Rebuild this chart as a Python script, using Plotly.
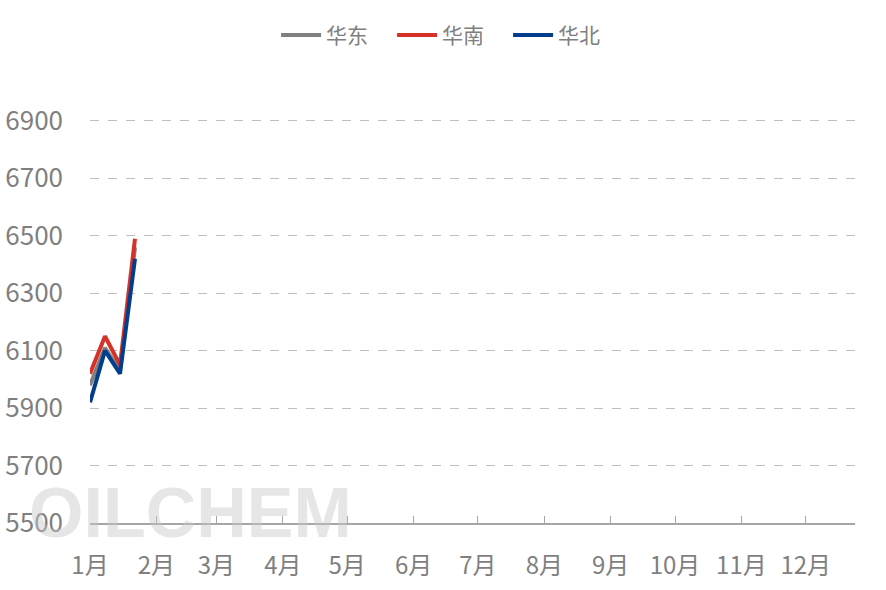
import plotly.graph_objects as go

dates = ["2025-01-01", "2025-01-08", "2025-01-15", "2025-01-22"]
huadong = [5980, 6110, 6030, 6460]
huanan = [6020, 6150, 6050, 6490]
huabei = [5920, 6100, 6020, 6420]

month_ticks = [f"2025-{m:02d}-01" for m in range(1, 13)]
month_labels = [f"{m}月" for m in range(1, 13)]
y_ticks = [5500, 5700, 5900, 6100, 6300, 6500, 6700, 6900]

series = [
    ("华东", huadong, "#808080"),
    ("华南", huanan, "#d7322a"),
    ("华北", huabei, "#033e8c"),
]

fig = go.Figure()
for name, vals, color in series:
    fig.add_trace(go.Scatter(
        x=dates, y=vals, name=name, mode="lines",
        line=dict(color=color, width=4),
    ))

font_family = "Noto Sans CJK SC, Noto Sans, sans-serif"
fig.update_layout(
    width=886, height=590,
    margin=dict(l=90, r=31, t=118, b=67, autoexpand=False),
    paper_bgcolor="white", plot_bgcolor="white",
    font=dict(family=font_family, size=21, color="#7f7f7f"),
    showlegend=True,
    legend=dict(
        orientation="h", x=0.508, xanchor="center", xref="container",
        y=0.94, yanchor="middle", yref="container",
        font=dict(size=21, color="#7f7f7f"),
        entrywidth=61, itemwidth=40,
    ),
    xaxis=dict(
        type="date",
        range=["2025-01-01", "2025-12-24"],
        tickmode="array", tickvals=month_ticks, ticktext=month_labels,
        showgrid=False, zeroline=False,
        showline=True, linecolor="#a6a6a6", linewidth=1.5,
        ticks="inside", ticklen=7, tickcolor="#a6a6a6", tickwidth=1,
        tickfont=dict(size=24, color="#7f7f7f"),
        ticklabelstandoff=20, automargin=False,
    ),
    yaxis=dict(
        range=[5500, 6910],
        tickmode="array", tickvals=y_ticks,
        showgrid=True, gridcolor="#bfbfbf", griddash="dash", gridwidth=1,
        zeroline=False, showline=False,
        tickfont=dict(size=26, color="#7f7f7f"),
        ticklabelstandoff=26, automargin=False,
    ),
)

fig.add_annotation(
    text="<b>OILCHEM</b>", xref="paper", yref="paper", x=-0.082, y=0.025,
    xanchor="left", yanchor="middle", showarrow=False,
    font=dict(family="Liberation Sans, Arial, sans-serif", size=70, color="rgba(200,200,200,0.45)"),
)

fig.write_html("out.html", config={"displayModeBar": False},
               post_script="document.body.style.margin='0';")
